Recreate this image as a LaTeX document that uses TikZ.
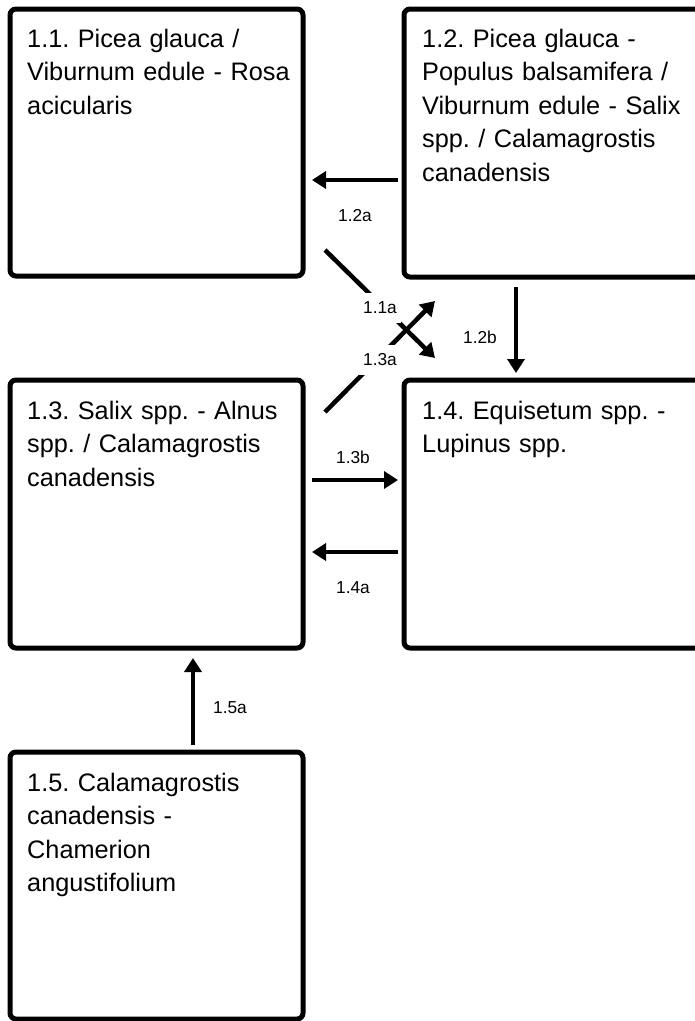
\documentclass[tikz,border=0pt]{standalone}
\usepackage{fontspec}
\setmainfont{Liberation Sans}
\usetikzlibrary{arrows.meta}
\frenchspacing
\begin{document}
\begin{tikzpicture}[x=1pt,y=-1pt,
  box/.style={draw, line width=5pt, rounded corners=6pt, inner sep=0pt},
  boxtext/.style={anchor=base west, text width=300pt, align=left, inner sep=0pt,
    font=\fontsize{25.3}{33.5}\selectfont},
  lbl/.style={font=\fontsize{17.3}{20}\selectfont, inner sep=0pt},
  gaplbl/.style={lbl, fill=white, inner xsep=4pt, inner ysep=8.5pt},
  arr/.style={line width=4.5pt, -{Triangle[length=14pt,width=17pt]}},
]
\useasboundingbox (0,0) rectangle (695,1021);
\clip (0,0) rectangle (695,1021);

% boxes
\node[box, minimum width=293pt, minimum height=267pt] (b11) at (156.5,142.5) {};
\node[box, minimum width=298pt, minimum height=268pt] (b12) at (553,143) {};
\node[box, minimum width=293pt, minimum height=268pt] (b13) at (156.5,514) {};
\node[box, minimum width=298pt, minimum height=268pt] (b14) at (553,514) {};
\node[box, minimum width=293pt, minimum height=267pt] (b15) at (156.5,885.5) {};

% box texts
\node[boxtext] (t11) at (27,47) {1.1. Picea glauca /\\Viburnum edule - Rosa\\acicularis};
\node[boxtext] (t12) at (422,47) {1.2. Picea glauca -\\Populus balsamifera /\\Viburnum edule - Salix\\spp. / Calamagrostis\\canadensis};
\node[boxtext] (t13) at (27,419) {1.3. Salix spp. - Alnus\\spp. / Calamagrostis\\canadensis};
\node[boxtext] (t14) at (422,419) {1.4. Equisetum spp. -\\Lupinus spp.};
\node[boxtext] (t15) at (27,791) {1.5. Calamagrostis\\canadensis -\\Chamerion\\angustifolium};

% helper coordinates
\coordinate (y12a) at (0,180);
\coordinate (y13b) at (0,480);
\coordinate (y14a) at (0,552);
\coordinate (x12b) at (516,0);
\coordinate (x15a) at (193,0);
\coordinate (s11a) at (325,250);
\coordinate (e11a) at (435,358);
\coordinate (s13a) at (325,412);
\coordinate (e13a) at (435,301);

% straight connectors
\draw[arr, shorten <=3.5pt, shorten >=6.5pt] (b12.west |- y12a) -- (b11.east |- y12a);
\draw[arr, shorten <=7.5pt, shorten >=4.5pt] (b12.south -| x12b) -- (b14.north -| x12b);
\draw[arr, shorten <=6.5pt, shorten >=3.5pt] (b13.east |- y13b) -- (b14.west |- y13b);
\draw[arr, shorten <=3.5pt, shorten >=6.5pt] (b14.west |- y14a) -- (b13.east |- y14a);
\draw[arr, shorten <=4.5pt, shorten >=7.5pt] (b15.north -| x15a) -- (b13.south -| x15a);

% diagonal connectors
\draw[arr] (s11a) -- (e11a);
\draw[arr] (s13a) -- (e13a);

% labels
\node[lbl] (l12a) at (355,216) {1.2a};
\node[lbl] (l12b) at (480,337) {1.2b};
\node[lbl] (l13b) at (353,457) {1.3b};
\node[lbl] (l14a) at (353,588) {1.4a};
\node[lbl] (l15a) at (230,708) {1.5a};
\node[gaplbl] (l11a) at (380,308) {1.1a};
\node[gaplbl] (l13a) at (380,360) {1.3a};
\end{tikzpicture}
\end{document}
